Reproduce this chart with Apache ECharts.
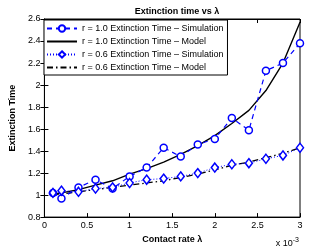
<!DOCTYPE html>
<html><head><meta charset="utf-8">
<script src="https://cdn.jsdelivr.net/npm/echarts@6/dist/echarts.min.js"></script>
<style>html,body{margin:0;padding:0;background:#fff}#c{width:332px;height:249px}</style>
</head><body><div id="c"></div>
<script>
const lambdaVals = [0.1,0.2,0.4,0.6,0.8,1.0,1.2,1.4,1.6,1.8,2.0,2.2,2.4,2.6,2.8,3.0];
const simR10 = [1.02,0.97,1.07,1.14,1.06,1.17,1.25,1.43,1.35,1.46,1.51,1.70,1.59,2.13,2.20,2.38];
const modelR10 = [1.01,1.02,1.05,1.09,1.13,1.19,1.24,1.30,1.37,1.45,1.54,1.65,1.77,1.95,2.20,2.57];
const simR06 = [1.02,1.04,1.03,1.06,1.07,1.11,1.14,1.15,1.17,1.20,1.25,1.28,1.29,1.33,1.36,1.43];
const modelR06 = [1.005,1.01,1.03,1.05,1.07,1.09,1.11,1.13,1.16,1.19,1.23,1.27,1.30,1.34,1.38,1.43];
const seriesNames = ['r = 1.0 Extinction Time \u2013 Simulation','r = 1.0 Extinction Time \u2013 Model','r = 0.6 Extinction Time \u2013 Simulation','r = 0.6 Extinction Time \u2013 Model'];
const xTicks = {min:0,max:3,step:0.5};
const yTicks = {min:0.8,max:2.6,step:0.2};

const pair = arr => lambdaVals.map((x,i)=>[x,arr[i]]);
const FONT = 'Liberation Sans, Arial, sans-serif';
const chart = echarts.init(document.getElementById('c'));
const axisCommon = {
  axisLine:{show:true,lineStyle:{color:'#000',width:1}},
  axisTick:{show:true,inside:true,length:4,lineStyle:{color:'#000'}},
  splitLine:{show:false}
};
chart.setOption({
  animation:false,
  title:{text:'Extinction time vs \u03bb',left:172,top:2,textAlign:'center',
    textStyle:{fontFamily:FONT,fontSize:9,fontWeight:'bold',color:'#000'}},
  grid:{left:43,right:32,top:19,bottom:27,show:true,borderColor:'#000',borderWidth:1},
  legend:{orient:'vertical',left:44,top:20,itemWidth:30,itemHeight:8,itemGap:4,
    padding:[4,4,3,2],backgroundColor:'#fff',borderColor:'#000',borderWidth:1,
    textStyle:{fontFamily:FONT,fontSize:9,color:'#000'},
    data:[
      {name:seriesNames[0]},
      {name:seriesNames[1],itemStyle:{opacity:0}},
      {name:seriesNames[2]},
      {name:seriesNames[3],itemStyle:{opacity:0}}
    ]},
  xAxis:[
    Object.assign({type:'value',min:xTicks.min,max:xTicks.max,interval:xTicks.step,
      name:'Contact rate \u03bb',nameLocation:'middle',nameGap:16,
      nameTextStyle:{fontFamily:FONT,fontSize:9,fontWeight:'bold',color:'#000'},
      axisLabel:{fontFamily:FONT,fontSize:9,color:'#000',margin:4}},axisCommon),
    Object.assign({type:'value',position:'top',min:xTicks.min,max:xTicks.max,interval:xTicks.step,
      axisLabel:{show:false}},axisCommon)
  ],
  yAxis:[
    Object.assign({type:'value',min:yTicks.min,max:yTicks.max,interval:yTicks.step,
      name:'Extinction Time',nameLocation:'middle',nameGap:18,
      nameTextStyle:{fontFamily:FONT,fontSize:9,fontWeight:'bold',color:'#000'},
      axisLabel:{fontFamily:FONT,fontSize:9,color:'#000',margin:4,
        formatter:v=>String(Math.round(v*10)/10)}},axisCommon),
    Object.assign({type:'value',position:'right',min:yTicks.min,max:yTicks.max,interval:yTicks.step,
      axisLabel:{show:false}},axisCommon)
  ],
  graphic:[{type:'text',right:33,bottom:1,style:{
    text:'{a|x 10}{b|-3}',rich:{a:{fontFamily:FONT,fontSize:9,fill:'#000'},
      b:{fontFamily:FONT,fontSize:7,fill:'#000',verticalAlign:'top',padding:[0,0,6,0]}}}}],
  series:[
    {name:seriesNames[0],type:'line',data:pair(simR10),symbol:'circle',symbolSize:7,
      showAllSymbol:true,z:3,
      lineStyle:{color:'#0000ff',width:1.2,type:[5,4]},
      itemStyle:{color:'#fff',borderColor:'#0000ff',borderWidth:1.5}},
    {name:seriesNames[1],type:'line',data:pair(modelR10),symbol:'none',z:2,
      lineStyle:{color:'#000',width:1.4,type:'solid'},itemStyle:{color:'#000'}},
    {name:seriesNames[2],type:'line',data:pair(simR06),symbol:'diamond',symbolSize:[7,9],
      showAllSymbol:true,z:3,
      lineStyle:{color:'#0000ff',width:1,type:[1,2]},
      itemStyle:{color:'#fff',borderColor:'#0000ff',borderWidth:1.5}},
    {name:seriesNames[3],type:'line',data:pair(modelR06),symbol:'none',z:2,
      lineStyle:{color:'#000',width:1.3,type:[6,3,1.5,3]},itemStyle:{color:'#000'}}
  ]
});
</script></body></html>
